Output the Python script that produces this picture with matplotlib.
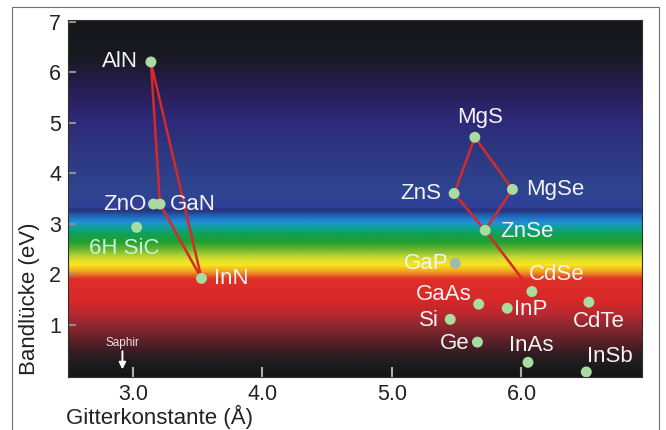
import numpy as np
import matplotlib
matplotlib.use("Agg")
import matplotlib.pyplot as plt
from matplotlib.colors import LinearSegmentedColormap
from matplotlib.patches import Rectangle

plt.rcParams['font.family'] = ['Liberation Sans', 'DejaVu Sans']

# materials: lattice constant (A), band gap (eV)
names = ["AlN", "ZnO", "GaN", "6H SiC", "InN", "MgS", "ZnS", "MgSe", "ZnSe",
         "GaP", "CdSe", "GaAs", "InP", "CdTe", "Si", "Ge", "InAs", "InSb"]
lattice = [3.14, 3.16, 3.21, 3.03, 3.53, 5.64, 5.48, 5.93, 5.72,
           5.49, 6.08, 5.67, 5.89, 6.52, 5.45, 5.66, 6.05, 6.50]
gap = [6.2, 3.39, 3.39, 2.93, 1.92, 4.71, 3.60, 3.68, 2.87,
       2.22, 1.66, 1.41, 1.33, 1.45, 1.11, 0.66, 0.26, 0.07]

# label offsets in points (dx, dy, ha)
label_pos = {
    "AlN": (-9, 0, "right"), "ZnO": (-5, 0, "right"), "GaN": (7, 0, "left"),
    "6H SiC": (-9, -15, "center"), "InN": (9, 0, "left"), "MgS": (4, 14, "center"),
    "ZnS": (-9, 0, "right"), "MgSe": (10, 0, "left"), "ZnSe": (11, -1, "left"),
    "GaP": (-5, 0, "right"), "CdSe": (-2, 12, "left"), "GaAs": (-5, 7, "right"),
    "InP": (5, -1, "left"), "CdTe": (7, -14, "center"), "Si": (-8, -1, "right"),
    "Ge": (-6, -1, "right"), "InAs": (2, 12, "center"), "InSb": (17, 11, "center"),
}

# alloy lines
nitride_line = ["AlN", "GaN", "InN", "AlN"]
ii_vi_lines = [["MgS", "ZnS", "ZnSe", "CdSe"], ["MgS", "MgSe", "ZnSe"]]

# background colour stops (eV, colour)
bg_stops = [(-0.03, "#151515"), (0.21, "#1c1c1e"), (0.41, "#301c20"), (0.70, "#602028"),
            (1.00, "#902830"), (1.20, "#b82830"), (1.49, "#d82828"), (1.91, "#e03028"),
            (2.05, "#f0a020"), (2.19, "#f8e820"), (2.34, "#c8d830"), (2.48, "#70b830"),
            (2.64, "#20a030"), (2.78, "#10a050"), (2.94, "#10a0a0"), (3.03, "#2090d8"),
            (3.17, "#2060b0"), (3.27, "#28307a"), (3.33, "#30409a"), (3.66, "#2e4590"),
            (4.26, "#2d3a85"), (5.05, "#2e2a78"), (5.5, "#2a205e"), (5.9, "#221c44"),
            (6.35, "#18191f"), (7.03, "#15171a")]

xmin, xmax = 2.5, 6.93
ymin, ymax = -0.03, 7.03

fig = plt.figure(figsize=(6.66, 4.3), dpi=100)
ax = fig.add_axes([68/666, 53/430, 574/666, 357/430])

# gradient
lo, hi = bg_stops[0][0], bg_stops[-1][0]
cmap = LinearSegmentedColormap.from_list(
    "gap", [((e - lo) / (hi - lo), c) for e, c in bg_stops], N=1024)
grad = np.linspace(lo, hi, 800).reshape(-1, 1)
ax.imshow(grad, cmap=cmap, vmin=lo, vmax=hi, extent=[xmin, xmax, ymin, ymax],
          origin="lower", aspect="auto", interpolation="bilinear", zorder=0)

idx = {n: i for i, n in enumerate(names)}
for path in [nitride_line] + ii_vi_lines:
    ax.plot([lattice[idx[n]] for n in path], [gap[idx[n]] for n in path],
            color="#d42a2a", lw=1.8, zorder=2, solid_joinstyle="round")

colors = ["#a0b8b0" if n == "GaP" else "#a8dca0" for n in names]
ax.scatter(lattice, gap, s=62, c=colors, zorder=3, edgecolors="none", clip_on=True)

for n, x, y in zip(names, lattice, gap):
    dx, dy, ha = label_pos[n]
    tc = "#c8f2dc" if n == "6H SiC" else "#f4f4f4"
    ax.annotate(n, (x, y), xytext=(dx, dy), textcoords="offset points",
                ha=ha, va="center", fontsize=16, color=tc, zorder=4)

# Saphir marker
ax.annotate("", xy=(2.92, 0.12), xytext=(2.92, 0.48),
            arrowprops=dict(arrowstyle="-|>", color="white", lw=1.4, mutation_scale=10,
                            shrinkA=0, shrinkB=0))
ax.text(2.92, 0.65, "Saphir", color="#f0e0e0", fontsize=8.5, ha="center", va="center")

ax.set_xlim(xmin, xmax)
ax.set_ylim(ymin, ymax)
ax.set_xticks([3, 4, 5, 6])
ax.set_xticklabels(["3.0", "4.0", "5.0", "6.0"])
ax.set_yticks([1, 2, 3, 4, 5, 6, 7])
ax.tick_params(axis="x", direction="in", length=7, width=1.5, color="#b0b0b0",
               labelsize=15.5, pad=5, labelcolor="#222222")
ax.tick_params(axis="y", direction="in", length=6, width=1.5, color="#909090",
               labelsize=15.5, pad=5, labelcolor="#222222")
for s in ax.spines.values():
    s.set_color("#303030")
    s.set_linewidth(0.8)

fig.text(30/666, 1 - 299/430, "Bandlücke (eV)", rotation=90, fontsize=16,
         ha="center", va="center", color="#222222")
fig.text(66/666, 1 - 417/430, "Gitterkonstante (Å)", fontsize=16,
         ha="left", va="center", color="#222222")

# outer frame
fig.patches.append(Rectangle((12/666, -0.1), 647/666, 1.1 - 7/430, transform=fig.transFigure,
                             fill=False, edgecolor="#707070", lw=0.8))

fig.savefig("out.png", dpi=100)
